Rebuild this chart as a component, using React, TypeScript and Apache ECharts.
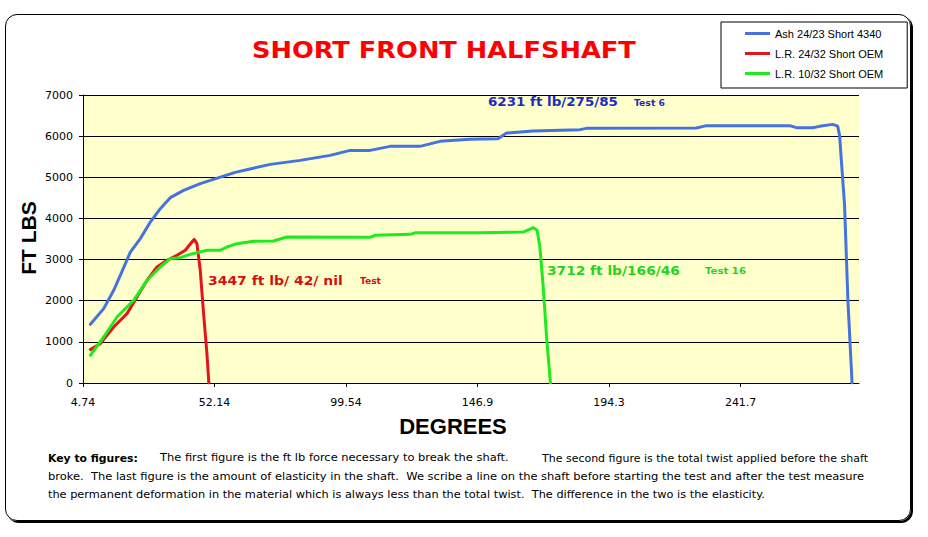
import React, { useEffect, useRef } from "react";
import * as echarts from "echarts";

const titleText = "SHORT FRONT HALFSHAFT";
const yAxisTitle = "FT LBS";
const xAxisTitle = "DEGREES";

const xTickValues = [4.74, 52.14, 99.54, 146.94, 194.34, 241.74];
const xTickLabels = ["4.74", "52.14", "99.54", "146.9", "194.3", "241.7"];

const seriesNames = ["Ash 24/23 Short 4340", "L.R. 24/32 Short OEM", "L.R. 10/32 Short OEM"];

const ashDegrees = [7.4, 12.2, 15.8, 19.4, 21.8, 25.4, 29.0, 32.6, 36.2, 41.0, 47.0, 50.6, 59.6, 72.2, 83.0, 93.8, 101.0, 108.2, 115.4, 126.2, 133.4, 144.2, 154.3, 157.4, 166.9, 183.8, 186.2, 225.8, 229.4, 259.4, 261.8, 267.7, 270.2, 274.9, 276.7, 277.4, 278.6, 279.2, 280.4, 281.9];
const ashFtLbs = [1426, 1808, 2253, 2804, 3183, 3509, 3912, 4238, 4505, 4683, 4845, 4926, 5120, 5314, 5411, 5533, 5654, 5654, 5752, 5752, 5873, 5922, 5939, 6075, 6124, 6158, 6189, 6197, 6255, 6255, 6206, 6206, 6238, 6286, 6245, 6019, 4884, 4318, 2010, 0];

const lr2432Degrees = [7.4, 11.0, 15.8, 20.6, 24.2, 27.8, 31.4, 35.0, 38.6, 41.6, 44.0, 44.8, 45.8, 47.0, 48.2, 49.4, 50.1];
const lr2432FtLbs = [812, 957, 1361, 1686, 2090, 2496, 2819, 2982, 3103, 3225, 3426, 3492, 3387, 2739, 1686, 714, 0];

const lr1032Degrees = [7.4, 12.2, 17.0, 23.0, 27.8, 32.6, 36.2, 39.8, 43.4, 49.4, 54.2, 56.6, 60.2, 66.2, 73.4, 78.2, 108.2, 110.0, 122.6, 124.4, 147.8, 163.4, 167.0, 168.4, 169.4, 170.6, 171.8, 173.2];
const lr1032FtLbs = [673, 1118, 1604, 2010, 2496, 2819, 3023, 3047, 3127, 3225, 3225, 3305, 3387, 3443, 3451, 3548, 3541, 3589, 3613, 3650, 3650, 3669, 3776, 3711, 3305, 2333, 1118, 0];

const annotations = [
  { main: "6231 ft lb/275/85", test: "Test 6", color: "#1A2DBF" },
  { main: "3447 ft lb/ 42/ nil", test: "Test", color: "#D01010" },
  { main: "3712 ft lb/166/46", test: "Test 16", color: "#22D422" },
];

const keyBold = "Key to figures:";
const keyLines = [
  "The first figure is the ft lb force necessary to break the shaft.",
  "The second figure is the total twist applied before the shaft",
  "broke.  The last figure is the amount of elasticity in the shaft.  We scribe a line on the shaft before starting the test and after the test measure",
  "the permanent deformation in the material which is always less than the total twist.  The difference in the two is the elasticity.",
];

function pairs(xs: number[], ys: number[]) {
  return xs.map((x, i) => [x, ys[i]]);
}

function measure(text: string, font: string): number {
  const c = document.createElement("canvas");
  const ctx = c.getContext("2d");
  if (!ctx) return text.length * 6;
  ctx.font = font;
  return ctx.measureText(text).width;
}

function fitText(text: string, x: number, y: number, width: number, size: number, weight: string, family: string, color: string) {
  const w = measure(text, `${weight} ${size}px ${family}`);
  return {
    type: "text",
    x,
    y,
    scaleX: w > 0 ? width / w : 1,
    style: {
      text,
      fontSize: size,
      fontWeight: weight,
      fontFamily: family,
      fill: color,
      align: "left",
      verticalAlign: "middle",
    },
  };
}

export default function App() {
  const ref = useRef<HTMLDivElement>(null);
  useEffect(() => {
    document.body.style.margin = "0";
    const chart = echarts.init(ref.current!, null, { renderer: "svg" });
    const lineFamily = "DejaVu Sans";
    const keyFamily = "DejaVu Sans";
    const lineSeries = (name: string, data: number[][], color: string) => ({
      name,
      type: "line",
      data,
      symbol: "none",
      smooth: false,
      lineStyle: { color, width: 3, join: "round", cap: "round" },
      itemStyle: { color },
    });
    const option: any = {
      animation: false,
      backgroundColor: "transparent",
      grid: {
        left: 83,
        top: 95,
        right: 69,
        bottom: 154,
        show: true,
        backgroundColor: "#FFFFCC",
        borderWidth: 0,
      },
      legend: {
        orient: "vertical",
        left: 721,
        top: 22,
        padding: [6, 24, 9, 24],
        itemGap: 9,
        itemWidth: 25,
        itemHeight: 3,
        icon: "rect",
        backgroundColor: "#FFFFFF",
        borderColor: "#000000",
        borderWidth: 1,
        textStyle: { fontFamily: "Liberation Sans", fontSize: 11, color: "#000" },
        data: seriesNames,
      },
      xAxis: {
        type: "value",
        min: 4.74,
        max: 284.4,
        axisLine: { lineStyle: { color: "#000", width: 1 } },
        axisTick: { show: true, length: 4, customValues: xTickValues, lineStyle: { color: "#000" } },
        axisLabel: {
          customValues: xTickValues,
          margin: 14,
          fontFamily: "DejaVu Sans",
          fontSize: 11,
          color: "#000",
          formatter: (v: number) => {
            const i = xTickValues.findIndex((t) => Math.abs(t - v) < 0.01);
            return i >= 0 ? xTickLabels[i] : "";
          },
        },
        splitLine: { show: false },
      },
      yAxis: {
        type: "value",
        min: 0,
        max: 7000,
        interval: 1000,
        axisLine: { show: true, lineStyle: { color: "#000", width: 1 } },
        axisTick: { show: true, length: 4, lineStyle: { color: "#000" } },
        axisLabel: {
          margin: 10,
          fontFamily: "DejaVu Sans",
          fontSize: 11,
          color: "#000",
          formatter: (v: number) => String(v),
        },
        splitLine: { show: true, lineStyle: { color: "#000", width: 1 } },
      },
      series: [
        lineSeries(seriesNames[0], pairs(ashDegrees, ashFtLbs), "#4472E0"),
        lineSeries(seriesNames[1], pairs(lr2432Degrees, lr2432FtLbs), "#E4141B"),
        lineSeries(seriesNames[2], pairs(lr1032Degrees, lr1032FtLbs), "#1EEB1E"),
      ],
      graphic: [
        fitText(titleText, 252, 50, 384, 23, "bold", "DejaVu Sans", "#FF0000"),
        {
          type: "text",
          x: 28,
          y: 238,
          rotation: Math.PI / 2,
          style: {
            text: yAxisTitle,
            fontSize: 21,
            fontWeight: "bold",
            fontFamily: "Liberation Sans",
            fill: "#000",
            align: "center",
            verticalAlign: "middle",
          },
        },
        {
          type: "text",
          x: 453,
          y: 426,
          style: {
            text: xAxisTitle,
            fontSize: 22,
            fontWeight: "bold",
            fontFamily: "Liberation Sans",
            fill: "#000",
            align: "center",
            verticalAlign: "middle",
          },
        },
        fitText(annotations[0].main, 488, 102, 130, 13, "bold", lineFamily, annotations[0].color),
        fitText(annotations[0].test, 634, 103, 31, 9, "bold", lineFamily, annotations[0].color),
        fitText(annotations[1].main, 208, 280, 135, 13, "bold", lineFamily, annotations[1].color),
        fitText(annotations[1].test, 360, 281, 21, 9, "bold", lineFamily, annotations[1].color),
        fitText(annotations[2].main, 547, 271, 133, 13, "bold", lineFamily, annotations[2].color),
        fitText(annotations[2].test, 705, 271, 41, 9, "bold", lineFamily, annotations[2].color),
        fitText(keyBold, 48, 458, 90, 10, "bold", keyFamily, "#000"),
        fitText(keyLines[0], 160, 458, 349, 10, "normal", keyFamily, "#000"),
        fitText(keyLines[1], 542, 458, 326, 10, "normal", keyFamily, "#000"),
        fitText(keyLines[2], 48, 477, 817, 10, "normal", keyFamily, "#000"),
        fitText(keyLines[3], 48, 495, 718, 10, "normal", keyFamily, "#000"),
      ],
    };
    chart.setOption(option);
    return () => chart.dispose();
  }, []);
  return (
    <div style={{ position: "relative", width: 928, height: 537, background: "#fff" }}>
      <div
        style={{
          position: "absolute",
          left: 5,
          top: 14,
          width: 904,
          height: 505,
          border: "1px solid #000",
          borderRadius: 12,
          boxShadow: "2px 2px 0 0 #000",
        }}
      />
      <div ref={ref} style={{ position: "absolute", left: 0, top: 0, width: 928, height: 537 }} />
    </div>
  );
}
